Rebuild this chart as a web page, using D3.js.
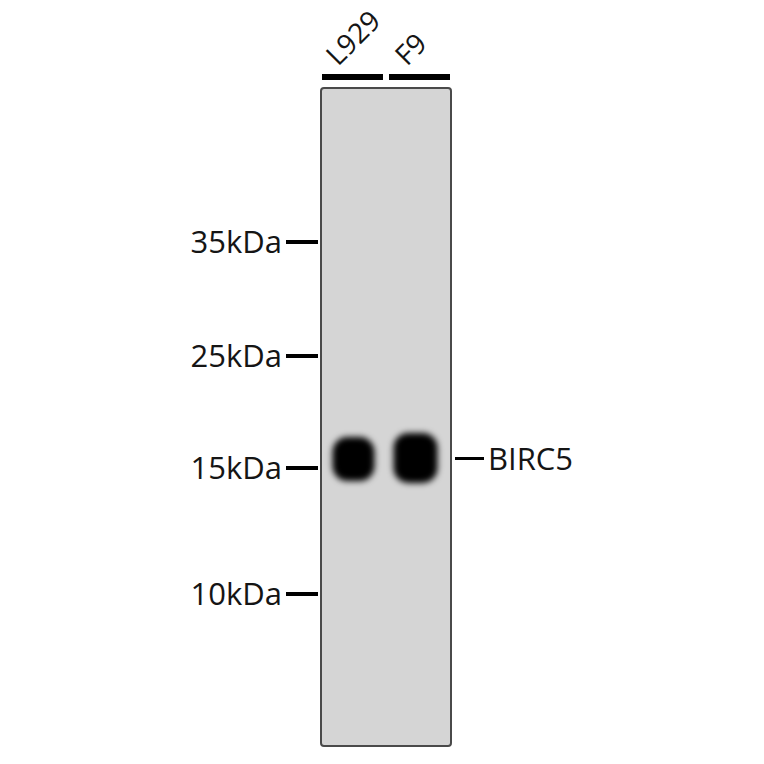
<!DOCTYPE html>
<html>
<head>
<meta charset="utf-8">
<script src="https://cdn.jsdelivr.net/npm/d3@7"></script>
<style>
  html, body { margin: 0; padding: 0; background: #fff; }
  text { font-family: "Open Sans", "Noto Sans", sans-serif; fill: #151515; }
</style>
</head>
<body>
<div id="blot"></div>
<script>
"use strict";

const width = 764;
const height = 764;

// lanes and bands
const lanes = ["L929", "F9"];
const bandKDa = [15.8, 15.9];
const bandWidth = [42, 44];
const bandHeight = [44, 50];
const bandLabel = "BIRC5";

// molecular weight ladder
const markers = [35, 25, 15, 10];
const markerLabels = ["35kDa", "25kDa", "15kDa", "10kDa"];

const membrane = { x0: 321, x1: 451, y0: 88, y1: 746 };

// ladder is not evenly spaced on the gel, so map it piecewise
const y = d3.scaleLinear()
  .domain(markers)
  .range([242, 356, 468, 594]);

const x = d3.scaleBand()
  .domain(lanes)
  .range([membrane.x0 + 1, membrane.x1 - 1])
  .paddingInner(0.09)
  .paddingOuter(0);

const svg = d3.select("#blot").append("svg")
  .attr("width", width)
  .attr("height", height);

const defs = svg.append("defs");

defs.append("filter")
  .attr("id", "smear")
  .attr("x", "-50%").attr("y", "-50%")
  .attr("width", "200%").attr("height", "200%")
  .append("feGaussianBlur")
  .attr("stdDeviation", 3);

// membrane
svg.append("rect")
  .attr("x", membrane.x0)
  .attr("y", membrane.y0)
  .attr("width", membrane.x1 - membrane.x0)
  .attr("height", membrane.y1 - membrane.y0)
  .attr("rx", 3)
  .attr("fill", "#d5d5d5")
  .attr("stroke", "#4a4a4a")
  .attr("stroke-width", 2);

// bands
const bands = svg.append("g").attr("filter", "url(#smear)");

bands.selectAll("rect")
  .data(lanes)
  .join("rect")
  .attr("x", (d, i) => x(d) + x.bandwidth() / 2 + (i === 0 ? 1 : -4) - bandWidth[i] / 2)
  .attr("y", (d, i) => y(bandKDa[i]) - bandHeight[i] / 2)
  .attr("width", (d, i) => bandWidth[i])
  .attr("height", (d, i) => bandHeight[i])
  .attr("rx", 15)
  .attr("fill", "#050505");

// lane bars and names
svg.selectAll(".laneBar")
  .data(lanes)
  .join("rect")
  .attr("class", "laneBar")
  .attr("x", d => x(d))
  .attr("y", 74)
  .attr("width", x.bandwidth())
  .attr("height", 6)
  .attr("fill", "#000");

svg.selectAll(".laneName")
  .data(lanes)
  .join("text")
  .attr("class", "laneName")
  .attr("transform", d => "translate(" + (x(d) + (d === "F9" ? 18 : 16)) + ",67) rotate(-45)")
  .attr("font-size", 28)
  .text(d => d);

// ladder
const ladder = svg.selectAll(".marker")
  .data(markers)
  .join("g")
  .attr("class", "marker")
  .attr("transform", d => "translate(0," + y(d) + ")");

ladder.append("line")
  .attr("x1", 286)
  .attr("x2", 318)
  .attr("stroke", "#000")
  .attr("stroke-width", 4);

ladder.append("text")
  .attr("x", 282)
  .attr("dy", "0.36em")
  .attr("text-anchor", "end")
  .attr("font-size", 31)
  .text((d, i) => markerLabels[i]);

// band label
const labelY = y(d3.mean(bandKDa));
svg.append("line")
  .attr("x1", 455)
  .attr("x2", 484)
  .attr("y1", labelY)
  .attr("y2", labelY)
  .attr("stroke", "#000")
  .attr("stroke-width", 3);

svg.append("text")
  .attr("x", 488)
  .attr("y", labelY)
  .attr("dy", "0.36em")
  .attr("font-size", 31)
  .text(bandLabel);
</script>
</body>
</html>
